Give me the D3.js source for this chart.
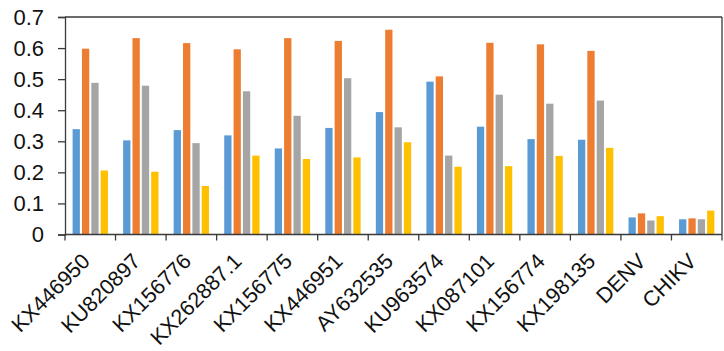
<!DOCTYPE html>
<html>
<head>
<meta charset="utf-8">
<script src="https://cdn.jsdelivr.net/npm/d3@7"></script>
<style>
  html, body { margin: 0; padding: 0; background: #fff; }
  svg { display: block; font-family: "Liberation Sans", Arial, sans-serif; }
</style>
</head>
<body>
<svg id="chart" width="724" height="351"></svg>
<script>
// Accession categories along the x axis
const categories = ["KX446950", "KU820897", "KX156776", "KX262887.1", "KX156775",
  "KX446951", "AY632535", "KU963574", "KX087101", "KX156774", "KX198135", "DENV", "CHIKV"];

// Four series per category
const seriesA = [0.339, 0.303, 0.336, 0.319, 0.277, 0.343, 0.394, 0.492, 0.347, 0.307, 0.305, 0.055, 0.049];
const seriesB = [0.598, 0.632, 0.616, 0.596, 0.632, 0.623, 0.659, 0.509, 0.617, 0.612, 0.591, 0.068, 0.052];
const seriesC = [0.488, 0.479, 0.294, 0.461, 0.382, 0.503, 0.345, 0.254, 0.450, 0.421, 0.431, 0.045, 0.049];
const seriesD = [0.206, 0.202, 0.156, 0.254, 0.243, 0.248, 0.297, 0.218, 0.220, 0.253, 0.279, 0.059, 0.077];

const seriesColors = ["#5B9BD5", "#ED7D31", "#A5A5A5", "#FFC000"];
const yTicks = [0, 0.1, 0.2, 0.3, 0.4, 0.5, 0.6, 0.7];

const allSeries = [seriesA, seriesB, seriesC, seriesD];
const rows = categories.map((c, i) => ({ cat: c, values: allSeries.map(s => s[i]) }));

const svg = d3.select("#chart");
const plotLeft = 65, plotRight = 722, plotTop = 17, plotBottom = 234.5;

const x = d3.scaleBand().domain(categories).range([plotLeft, plotRight]).padding(0);
const y = d3.scaleLinear().domain([0, 0.7]).range([plotBottom, plotTop]);

// Bars within each category: 4 slots, small gap between bars
const groupInset = 7.6;
const x1 = d3.scaleBand().domain(d3.range(4))
  .range([groupInset, x.bandwidth() - groupInset])
  .paddingInner(0.22).paddingOuter(0);

const g = svg.append("g");
const groups = g.selectAll("g.cat").data(rows).join("g")
  .attr("class", "cat")
  .attr("transform", d => `translate(${x(d.cat)},0)`);

groups.selectAll("rect").data(d => d.values).join("rect")
  .attr("x", (v, i) => x1(i))
  .attr("width", x1.bandwidth())
  .attr("y", v => y(v))
  .attr("height", v => y(0) - y(v))
  .attr("fill", (v, i) => seriesColors[i]);

const axisColor = "#3a3a3a";

// Frame: top and right edges
svg.append("line").attr("x1", plotLeft).attr("x2", plotRight).attr("y1", plotTop).attr("y2", plotTop)
  .attr("stroke", axisColor).attr("stroke-width", 1.3);
svg.append("line").attr("x1", plotRight).attr("x2", plotRight).attr("y1", plotTop).attr("y2", plotBottom)
  .attr("stroke", axisColor).attr("stroke-width", 1.3);

// Y axis
const yAxis = d3.axisLeft(y).tickValues(yTicks).tickSize(7).tickPadding(14)
  .tickFormat(d => d === 0 ? "0" : d3.format(".1f")(d));
const yg = svg.append("g").attr("transform", `translate(${plotLeft},0)`).call(yAxis);
yg.select(".domain").attr("stroke", axisColor).attr("stroke-width", 1.3);
yg.selectAll(".tick line").attr("stroke", axisColor).attr("stroke-width", 1.3);
yg.selectAll(".tick text").attr("font-size", 22).attr("fill", "#111")
  .attr("font-family", "Liberation Sans, Arial, sans-serif");

// X axis: tick marks at category boundaries
const xg = svg.append("g").attr("transform", `translate(0,${plotBottom})`);
xg.append("line").attr("x1", plotLeft).attr("x2", plotRight).attr("stroke", axisColor).attr("stroke-width", 1.3);
const bounds = categories.map(c => x(c)).concat([plotRight]);
xg.selectAll("line.tk").data(bounds).join("line").attr("class", "tk")
  .attr("x1", d => d).attr("x2", d => d).attr("y1", 0).attr("y2", 6)
  .attr("stroke", axisColor).attr("stroke-width", 1.3);

// Rotated category labels
xg.selectAll("text.lbl").data(categories).join("text").attr("class", "lbl")
  .attr("transform", d => `translate(${x(d) + x.bandwidth() / 2 + 1},${28}) rotate(-45)`)
  .attr("text-anchor", "end")
  .attr("font-size", 21.5)
  .attr("fill", "#111")
  .text(d => d);
</script>
</body>
</html>
